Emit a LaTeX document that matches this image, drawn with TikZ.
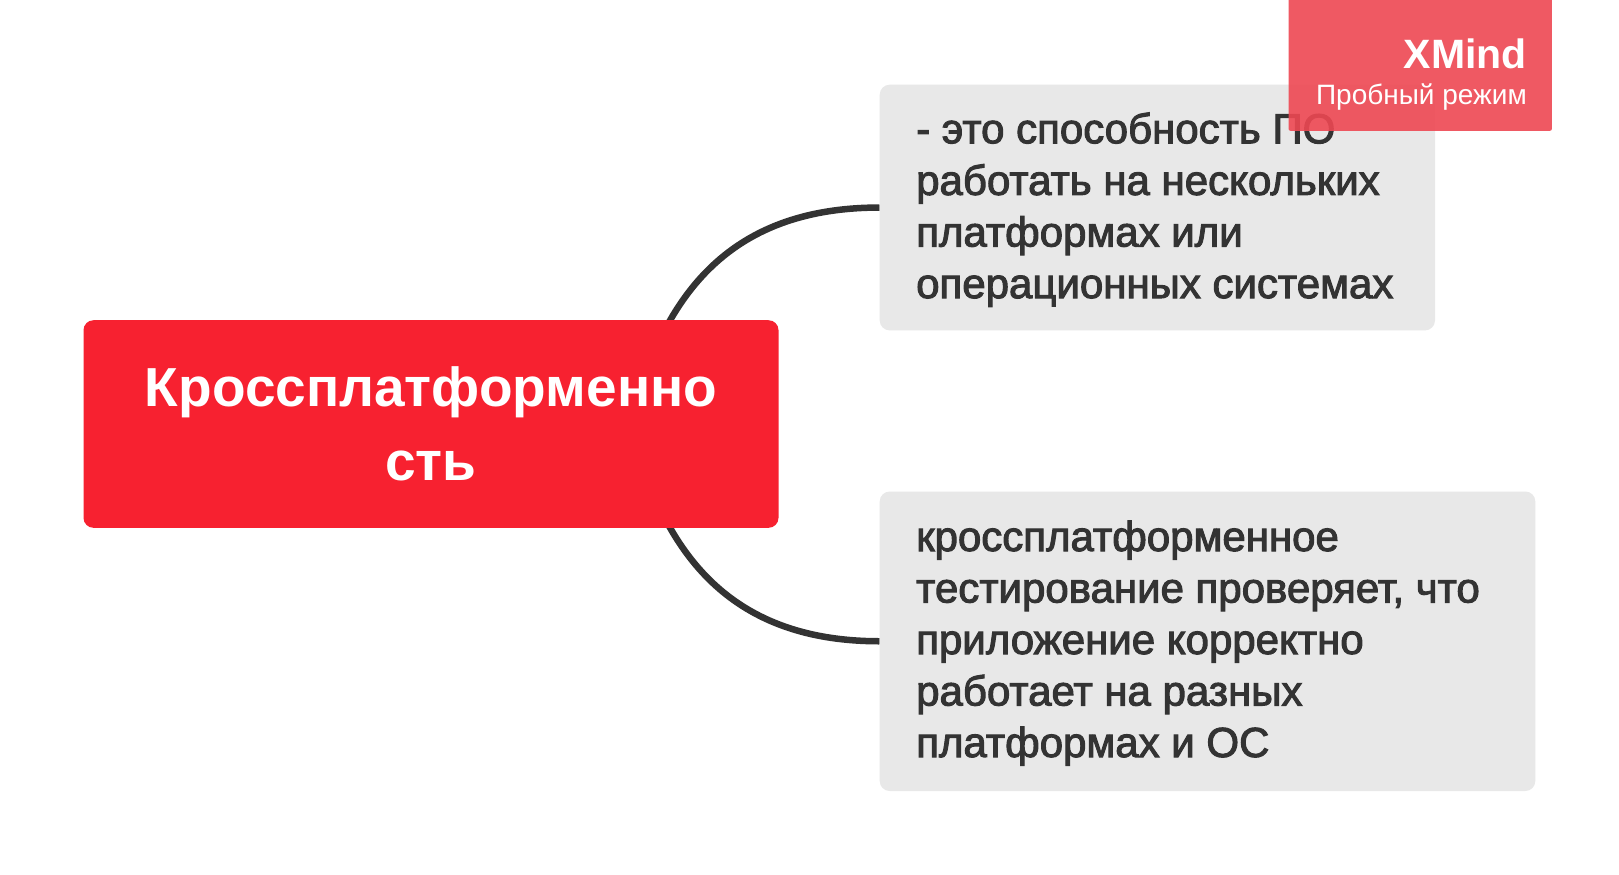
\documentclass[tikz,border=0pt]{standalone}
\usepackage{fontspec}
\newfontfamily\lsans{Liberation Sans}
\newfontfamily\lmed{Liberation Sans}[FakeBold=2.4]
\definecolor{rootred}{HTML}{F72130}
\definecolor{boxgray}{HTML}{E8E8E8}
\definecolor{textdark}{HTML}{333333}
\definecolor{linedark}{HTML}{333333}
\definecolor{wmred}{HTML}{EE4853}
\pgfdeclarelayer{bg}
\pgfsetlayers{bg,main}
\tikzset{
  rootbox/.style={fill=rootred, rounded corners=10pt, inner sep=0pt, draw=none},
  graybox/.style={fill=boxgray, rounded corners=10pt, inner sep=0pt, draw=none},
  wmbox/.style={fill=wmred, fill opacity=0.9, rounded corners=2pt, inner sep=0pt, draw=none},
  branch/.style={draw=linedark, line width=6.5pt},
  roottext/.style={font=\lsans\bfseries\fontsize{55}{74}\selectfont, text=white, anchor=base, inner sep=0pt},
  gtext/.style={font=\lmed\fontsize{42}{50}\selectfont, text=textdark, anchor=base west, inner sep=0pt},
  wmtitle/.style={font=\lsans\bfseries\fontsize{41}{44}\selectfont, text=white, anchor=base east, inner sep=0pt},
  wmsub/.style={font=\lsans\fontsize{28}{32}\selectfont, text=white, anchor=base east, inner sep=0pt}
}
\begin{document}
\begin{tikzpicture}[x=1pt,y=-1pt]
\useasboundingbox (0,0) rectangle (1619,875);

% boxes
\node[rootbox, minimum width=695pt, minimum height=207.6pt] (root) at (431,424) {};
\node[graybox, minimum width=555.3pt, minimum height=245.7pt] (t1) at (1157.35,207.55) {};
\node[graybox, minimum width=655.6pt, minimum height=299.5pt] (t2) at (1207.5,641.25) {};

% connectors (behind the boxes)
\coordinate (s1) at (630,424);
\begin{pgfonlayer}{bg}
\fill[white] (0,0) rectangle (1619,875);
\draw[branch] (s1) .. controls (662,300) and (725,207.55) .. (t1.west);
\draw[branch] (s1) .. controls (662,548) and (725,641.25) .. (t2.west);
\end{pgfonlayer}

% root text
\node[roottext] (r1) at (431,406) {Кроссплатформенно};
\node[roottext] (r2) at (431,480) {сть};

% top box text
\node[gtext] (t1a) at (916,143.3) {- это способность ПО};
\node[gtext] (t1b) at (916,194.9) {работать на нескольких};
\node[gtext] (t1c) at (916,246.5) {платформах или};
\node[gtext] (t1d) at (916,298.1) {операционных системах};

% bottom box text
\node[gtext] (t2a) at (916,551) {кроссплатформенное};
\node[gtext] (t2b) at (916,602.5) {тестирование проверяет, что};
\node[gtext] (t2c) at (916,654) {приложение корректно};
\node[gtext] (t2d) at (916,705.5) {работает на разных};
\node[gtext] (t2e) at (916,757) {платформах и ОС};

% watermark
\node[wmbox, minimum width=263.4pt, minimum height=140pt, anchor=south west] (wm) at (1288.3,131) {};
\node[wmtitle] (wmt) at (1527,68.3) {XMind};
\node[wmsub] (wms) at (1527,104) {Пробный режим};
\end{tikzpicture}
\end{document}
